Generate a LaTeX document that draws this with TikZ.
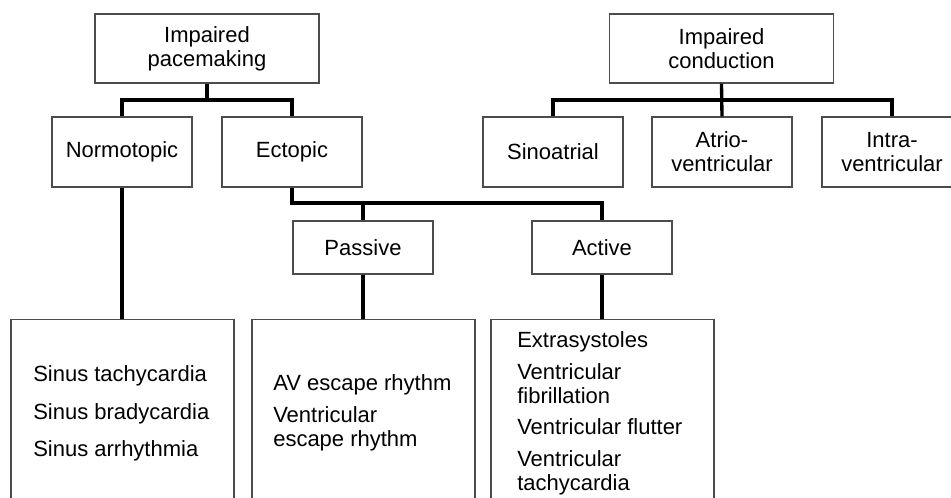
\documentclass[tikz,border=0pt]{standalone}
\usepackage{fontspec}
\setmainfont{Liberation Sans}
\begin{document}
\begin{tikzpicture}[x=0.75pt,y=-0.75pt,
  box/.style={draw=black!70,line width=0.9pt,rectangle,inner sep=0pt,align=center,font=\fontsize{16.5}{18}\selectfont},
  smallbox/.style={box,minimum width=105pt,minimum height=52.5pt},
  bigbox/.style={box,minimum width=168pt,minimum height=51.75pt},
  lowbox/.style={box,minimum width=105pt,minimum height=39.75pt},
  listbox/.style={box,minimum width=167.25pt,minimum height=150pt,anchor=north},
  item/.style={anchor=base west,inner sep=0pt,font=\fontsize{16.5}{18}\selectfont},
  conn/.style={draw=black,line width=2.5pt}]
\useasboundingbox (0,0) rectangle (951,498);
\clip (0,0) rectangle (951,498);
% top level
\node[bigbox] (ip) at (207,48.5) {Impaired\\pacemaking};
\node[bigbox] (ic) at (721.5,48.5) {Impaired\\conduction};
% second level
\node[smallbox] (norm) at (122,152) {Normotopic};
\node[smallbox] (ect) at (292,152) {Ectopic};
\node[smallbox] (sino) at (553,152) {Sinoatrial};
\node[smallbox] (atrio) at (722,152) {Atrio-\\ventricular};
\node[smallbox] (intra) at (892,152) {Intra-\\ventricular};
% third level
\node[lowbox] (pass) at (363,247.5) {Passive};
\node[lowbox] (act) at (602,247.5) {Active};
% bottom boxes
\node[listbox] (b1) at (122.5,319) {};
\node[listbox] (b2) at (363.5,319) {};
\node[listbox] (b3) at (602.5,319) {};
% items
\node[item] (t1) at (33,382) {Sinus tachycardia};
\node[item] (t2) at (33,420) {Sinus bradycardia};
\node[item] (t3) at (33,457) {Sinus arrhythmia};
\node[item] (p1) at (273,390.5) {AV escape rhythm};
\node[item] (p2a) at (273,422.5) {Ventricular};
\node[item] (p2b) at (273,446.5) {escape rhythm};
\node[item] (a1) at (517,348) {Extrasystoles};
\node[item] (a2a) at (517,380) {Ventricular};
\node[item] (a2b) at (517,404) {fibrillation};
\node[item] (a3) at (517,435) {Ventricular flutter};
\node[item] (a4a) at (517,467) {Ventricular};
\node[item] (a4b) at (517,491) {tachycardia};
% connectors
\coordinate (j1) at (207,100);
\coordinate (j2) at (721.5,100);
\coordinate (j3) at (292,203);
\draw[conn] (ip.south) -- (j1);
\draw[conn] (norm.north) |- (j1) -| (ect.north);
\draw[conn] (ic.south) -- (atrio.north);
\draw[conn] (sino.north) |- (j2) -| (intra.north);
\draw[conn] (ect.south) -- (j3) -| (act.north);
\draw[conn] (pass.north) -- (pass.north |- j3);
\draw[conn] (norm.south) -- (norm.south |- b1.north);
\draw[conn] (pass.south) -- (pass.south |- b2.north);
\draw[conn] (act.south) -- (act.south |- b3.north);
\end{tikzpicture}
\end{document}
